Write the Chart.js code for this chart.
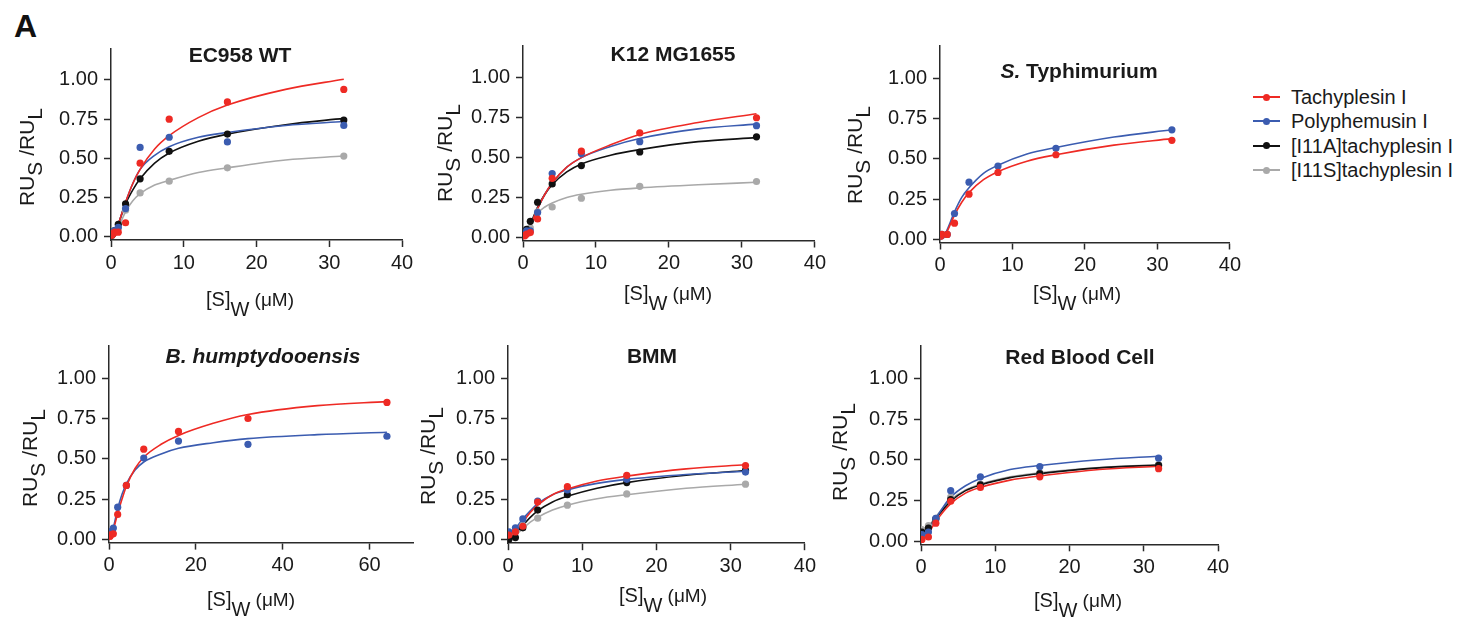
<!DOCTYPE html>
<html><head><meta charset="utf-8">
<script src="https://cdn.jsdelivr.net/npm/chart.js@4.4.1/dist/chart.umd.min.js"></script>
<style>
html,body{margin:0;padding:0;background:#fff;}
body{width:1461px;height:619px;overflow:hidden;position:relative;font-family:'Liberation Sans',Arial,sans-serif;color:#1a1a1a;}
canvas{position:absolute;}
#panelLabel{position:absolute;left:14px;top:10px;font:bold 32px/32px 'Liberation Sans',Arial,sans-serif;color:#111;}
.legline{position:absolute;width:27px;height:2px;}
.legdot{position:absolute;width:7px;height:7px;border-radius:50%;}
.legtxt{position:absolute;font:20px/20px 'Liberation Sans',Arial,sans-serif;color:#1a1a1a;white-space:nowrap;}
</style>
</head><body>
<div id="panelLabel">A</div>
<canvas id="c1"></canvas><canvas id="c2"></canvas><canvas id="c3"></canvas>
<canvas id="c4"></canvas><canvas id="c5"></canvas><canvas id="c6"></canvas>
<div id="legend"></div>
<script>
// ---------------- data ----------------
const SERIES = ['Tachyplesin I', 'Polyphemusin I', '[I11A]tachyplesin I', '[I11S]tachyplesin I'];
const PANEL_TITLES = ['EC958 WT', 'K12 MG1655', 'S. Typhimurium', 'B. humptydooensis', 'BMM', 'Red Blood Cell'];
const X_TICKS_32 = [0, 10, 20, 30, 40];
const X_TICKS_64 = [0, 20, 40, 60];
const Y_TICKS = [0, 0.25, 0.5, 0.75, 1.0];

// measured concentrations (µM)
const CONC = [0.125, 0.25, 0.5, 1, 2, 4, 8, 16, 32];
const CONC_BH = [0.125, 0.25, 0.5, 1, 2, 4, 8, 16, 32, 64];
const CONC_MEM = [0.125, 1, 2, 4, 8, 16, 32];
// x positions at which the fitted curves were read
const FIT_X = [0, 0.5, 1, 2, 3, 4, 6, 8, 12, 16, 24, 32];
const FIT_X_BH = [0, 0.5, 1, 2, 3, 4, 6, 8, 12, 16, 24, 32, 48, 64];

// EC958 WT
const ec_tach = [0.01, 0.02, 0.03, 0.03, 0.09, 0.47, 0.75, 0.86, 0.94];
const ec_poly = [0.02, 0.03, 0.04, 0.06, 0.18, 0.57, 0.635, 0.605, 0.71];
const ec_i11a = [0.01, 0.02, 0.04, 0.08, 0.21, 0.37, 0.545, 0.655, 0.745];
const ec_i11s = [0.01, 0.02, 0.03, 0.06, 0.17, 0.28, 0.355, 0.44, 0.515];
const ec_tach_fit = [0, 0.02, 0.08, 0.22, 0.34, 0.43, 0.56, 0.645, 0.76, 0.84, 0.94, 1.005];
const ec_poly_fit = [0, 0.02, 0.08, 0.22, 0.34, 0.43, 0.52, 0.575, 0.635, 0.665, 0.71, 0.735];
const ec_i11a_fit = [0, 0.02, 0.08, 0.21, 0.30, 0.37, 0.47, 0.535, 0.61, 0.655, 0.715, 0.755];
const ec_i11s_fit = [0, 0.02, 0.06, 0.16, 0.23, 0.275, 0.33, 0.36, 0.41, 0.44, 0.49, 0.515];

// K12 MG1655
const k12_tach = [0.01, 0.01, 0.02, 0.03, 0.115, 0.37, 0.54, 0.655, 0.75];
const k12_poly = [0.02, 0.02, 0.04, 0.04, 0.155, 0.40, 0.525, 0.60, 0.70];
const k12_i11a = [0.02, 0.03, 0.05, 0.10, 0.22, 0.335, 0.45, 0.535, 0.63];
const k12_i11s = [0.02, 0.03, 0.04, 0.06, 0.16, 0.19, 0.245, 0.32, 0.35];
const k12_tach_fit = [0, 0.02, 0.07, 0.18, 0.27, 0.34, 0.44, 0.50, 0.58, 0.645, 0.72, 0.775];
const k12_poly_fit = [0, 0.02, 0.07, 0.18, 0.27, 0.34, 0.44, 0.50, 0.57, 0.62, 0.68, 0.71];
const k12_i11a_fit = [0, 0.03, 0.08, 0.19, 0.27, 0.33, 0.41, 0.46, 0.515, 0.55, 0.60, 0.625];
const k12_i11s_fit = [0, 0.03, 0.07, 0.15, 0.19, 0.215, 0.25, 0.27, 0.295, 0.31, 0.33, 0.345];

// S. Typhimurium
const st_tach = [null, 0.03, null, 0.03, 0.10, 0.28, 0.415, 0.525, 0.615];
const st_poly = [null, 0.03, null, 0.03, 0.16, 0.355, 0.455, 0.565, 0.68];
const st_tach_fit = [0, 0.01, 0.05, 0.15, 0.23, 0.29, 0.37, 0.42, 0.485, 0.525, 0.585, 0.625];
const st_poly_fit = [0, 0.01, 0.06, 0.17, 0.26, 0.32, 0.41, 0.46, 0.53, 0.57, 0.635, 0.68];

// B. humptydooensis
const bh_tach = [0.02, 0.02, 0.03, 0.035, 0.155, 0.335, 0.56, 0.67, 0.75, 0.85];
const bh_poly = [0.04, 0.04, 0.05, 0.07, 0.20, 0.335, 0.505, 0.61, 0.59, 0.64];
const bh_tach_fit = [0, 0.02, 0.06, 0.16, 0.25, 0.33, 0.44, 0.51, 0.59, 0.645, 0.72, 0.775, 0.83, 0.855];
const bh_poly_fit = [0, 0.02, 0.07, 0.19, 0.28, 0.345, 0.43, 0.48, 0.53, 0.565, 0.60, 0.625, 0.65, 0.665];

// BMM
const bmm_tach = [0.03, 0.05, 0.085, 0.235, 0.33, 0.40, 0.46];
const bmm_poly = [0.05, 0.075, 0.13, 0.24, 0.31, 0.375, 0.42];
const bmm_i11a = [0.005, 0.015, 0.075, 0.185, 0.28, 0.355, 0.43];
const bmm_i11s = [0.03, 0.05, 0.09, 0.135, 0.215, 0.285, 0.345];
const bmm_tach_fit = [0.02, 0.03, 0.05, 0.11, 0.17, 0.215, 0.28, 0.315, 0.365, 0.395, 0.44, 0.465];
const bmm_poly_fit = [0.03, 0.05, 0.07, 0.13, 0.18, 0.225, 0.28, 0.31, 0.35, 0.375, 0.405, 0.425];
const bmm_i11a_fit = [0, 0.02, 0.04, 0.09, 0.14, 0.18, 0.235, 0.27, 0.32, 0.355, 0.40, 0.43];
const bmm_i11s_fit = [0, 0.015, 0.03, 0.07, 0.11, 0.14, 0.185, 0.215, 0.255, 0.28, 0.32, 0.345];

// Red Blood Cell
const rbc_tach = [0.01, 0.025, 0.11, 0.245, 0.33, 0.395, 0.445];
const rbc_poly = [0.04, 0.055, 0.14, 0.31, 0.395, 0.458, 0.51];
const rbc_i11a = [0.055, 0.08, 0.135, 0.255, 0.345, 0.415, 0.465];
const rbc_i11s = [0.07, 0.095, 0.14, 0.27, 0.35, 0.42, 0.47];
const rbc_tach_fit = [0, 0.02, 0.05, 0.12, 0.18, 0.23, 0.295, 0.33, 0.375, 0.40, 0.44, 0.46];
const rbc_poly_fit = [0.02, 0.04, 0.07, 0.14, 0.21, 0.27, 0.34, 0.385, 0.44, 0.465, 0.50, 0.522];
const rbc_i11a_fit = [0.03, 0.05, 0.08, 0.14, 0.195, 0.245, 0.31, 0.345, 0.39, 0.415, 0.45, 0.468];
const rbc_i11s_fit = [0.04, 0.06, 0.09, 0.15, 0.205, 0.255, 0.315, 0.35, 0.395, 0.42, 0.452, 0.47];

// ---------------- styles ----------------
const COLORS = ['#ee2a24', '#3b5cb0', '#111111', '#a9a9a9'];
const FONT = "'Liberation Sans', Arial, sans-serif";
const INK = '#1a1a1a';

function pts(xs, ys) { const o = []; xs.forEach((x, i) => { if (ys[i] !== null && ys[i] !== undefined) o.push({x, y: ys[i]}); }); return o; }

function buildDatasets(xPts, series, xFit, fits) {
  const ds = [];
  series.forEach(s => ds.push({
    label: SERIES[s.i], data: pts(xPts, s.v), showLine: false,
    pointRadius: 3.6, pointHoverRadius: 3.6, pointBackgroundColor: COLORS[s.i], pointBorderWidth: 0,
    borderColor: COLORS[s.i]
  }));
  fits.forEach(s => ds.push({
    label: SERIES[s.i] + ' fit', data: pts(xFit, s.v), showLine: true, pointRadius: 0,
    borderColor: COLORS[s.i], borderWidth: 1.6, cubicInterpolationMode: 'monotone', fill: false
  }));
  return ds;
}

function drawRuns(ctx, runs, cx, baseY) {
  let total = 0;
  runs.forEach(r => { ctx.font = r.f; r.w = ctx.measureText(r.t).width; total += r.w; });
  let x = cx - total / 2;
  runs.forEach(r => { ctx.font = r.f; ctx.fillText(r.t, x, baseY + (r.dy || 0)); x += r.w; });
}

const panelText = {
  id: 'panelText',
  afterDraw(chart, args, o) {
    if (!o || !o.origin) return;
    const ctx = chart.ctx; const ox = o.origin[0], oy = o.origin[1];
    ctx.save();
    ctx.fillStyle = INK; ctx.textBaseline = 'alphabetic'; ctx.textAlign = 'left';
    drawRuns(ctx, o.title, o.titlePos[0] - ox, o.titlePos[1] - oy);
    drawRuns(ctx, [
      {t: '[S]', f: `20px ${FONT}`},
      {t: 'W', f: `20px ${FONT}`, dy: 10},
      {t: ' (\u03bcM)', f: `19px ${FONT}`}
    ], o.xTitlePos[0] - ox, o.xTitlePos[1] - oy);
    ctx.translate(o.yTitlePos[0] - ox, o.yTitlePos[1] - oy);
    ctx.rotate(-Math.PI / 2);
    drawRuns(ctx, [
      {t: 'RU', f: `21px ${FONT}`},
      {t: 'S', f: `21px ${FONT}`, dy: 8},
      {t: ' /RU', f: `21px ${FONT}`},
      {t: 'L', f: `21px ${FONT}`, dy: 8}
    ], 0, 0);
    ctx.restore();
  }
};

function makePanel(p) {
  const cv = document.getElementById(p.id);
  const [cl, ct, cw, ch] = p.canvas;
  cv.width = cw; cv.height = ch;
  cv.style.left = cl + 'px'; cv.style.top = ct + 'px';
  cv.style.width = cw + 'px'; cv.style.height = ch + 'px';
  const XH = 34;
  const yW = p.area.l - cl;
  const padTop = p.area.t - ct;
  const padRight = cl + cw - p.area.r;
  const padBottom = ct + ch - p.area.b - XH;
  const tickFont = {family: FONT, size: 20};
  new Chart(cv, {
    type: 'scatter',
    data: {datasets: p.datasets},
    options: {
      responsive: false, animation: false, devicePixelRatio: 1,
      layout: {padding: {left: 0, top: padTop, right: padRight, bottom: padBottom}},
      plugins: {legend: {display: false}, tooltip: {enabled: false}, title: {display: false},
        panelText: {origin: [cl, ct], title: p.title, titlePos: p.titlePos, xTitlePos: p.xTitlePos, yTitlePos: p.yTitlePos}},
      scales: {
        x: {
          type: 'linear', min: 0, max: p.xMax,
          afterBuildTicks: s => { s.ticks = p.xTicks.map(v => ({value: v})); },
          afterFit: s => { s.height = XH; },
          grid: {drawOnChartArea: false, drawTicks: true, tickLength: 7, tickWidth: 1.5, color: '#2a2a2a'},
          border: {display: true, color: '#2a2a2a', width: 1.5},
          ticks: {font: tickFont, color: INK, padding: 4, maxRotation: 0, autoSkip: false, callback: v => String(v)}
        },
        y: {
          type: 'linear', min: -0.02, max: 1.2,
          afterBuildTicks: s => { s.ticks = Y_TICKS.map(v => ({value: v})); },
          afterFit: s => { s.width = yW; },
          grid: {drawOnChartArea: false, drawTicks: true, tickLength: 7, tickWidth: 1.5, color: '#2a2a2a'},
          border: {display: true, color: '#2a2a2a', width: 1.5},
          ticks: {font: tickFont, color: INK, padding: 6, autoSkip: false, callback: v => Number(v).toFixed(2)}
        }
      }
    },
    plugins: [panelText]
  });
}

const B = w => `bold ${w}px ${FONT}`;
const BI = w => `italic bold ${w}px ${FONT}`;

makePanel({
  id: 'c1', canvas: [0, 28, 420, 297], area: {l: 111, r: 402, t: 48.6, b: 240},
  xMax: 40, xTicks: X_TICKS_32,
  title: [{t: PANEL_TITLES[0], f: B(21)}], titlePos: [240, 62], xTitlePos: [250, 306], yTitlePos: [34, 157],
  datasets: buildDatasets(CONC,
    [{i: 0, v: ec_tach}, {i: 1, v: ec_poly}, {i: 2, v: ec_i11a}, {i: 3, v: ec_i11s}], FIT_X,
    [{i: 0, v: ec_tach_fit}, {i: 1, v: ec_poly_fit}, {i: 2, v: ec_i11a_fit}, {i: 3, v: ec_i11s_fit}])
});
makePanel({
  id: 'c2', canvas: [420, 28, 410, 297], area: {l: 523, r: 822, t: 45.3, b: 240.5},
  xMax: 40, xTicks: X_TICKS_32,
  title: [{t: PANEL_TITLES[1], f: B(21)}], titlePos: [673, 61], xTitlePos: [668, 300], yTitlePos: [452, 153],
  datasets: buildDatasets(CONC,
    [{i: 0, v: k12_tach}, {i: 1, v: k12_poly}, {i: 2, v: k12_i11a}, {i: 3, v: k12_i11s}], FIT_X,
    [{i: 0, v: k12_tach_fit}, {i: 1, v: k12_poly_fit}, {i: 2, v: k12_i11a_fit}, {i: 3, v: k12_i11s_fit}])
});
makePanel({
  id: 'c3', canvas: [830, 28, 415, 297], area: {l: 940, r: 1233, t: 46.1, b: 242.5},
  xMax: 40, xTicks: X_TICKS_32,
  title: [{t: 'S.', f: BI(21)}, {t: ' Typhimurium', f: B(21)}], titlePos: [1079, 78], xTitlePos: [1077, 300], yTitlePos: [862, 155],
  datasets: buildDatasets(CONC,
    [{i: 0, v: st_tach}, {i: 1, v: st_poly}], FIT_X,
    [{i: 0, v: st_tach_fit}, {i: 1, v: st_poly_fit}])
});
makePanel({
  id: 'c4', canvas: [0, 328, 420, 291], area: {l: 109, r: 413, t: 340.1, b: 542.6},
  xMax: 70, xTicks: X_TICKS_64,
  title: [{t: PANEL_TITLES[3], f: BI(21)}], titlePos: [263, 363], xTitlePos: [251, 606], yTitlePos: [37, 458],
  datasets: buildDatasets(CONC_BH,
    [{i: 0, v: bh_tach}, {i: 1, v: bh_poly}], FIT_X_BH,
    [{i: 0, v: bh_tach_fit}, {i: 1, v: bh_poly_fit}])
});
makePanel({
  id: 'c5', canvas: [420, 328, 400, 291], area: {l: 508, r: 805, t: 345.3, b: 543.2},
  xMax: 40, xTicks: X_TICKS_32,
  title: [{t: PANEL_TITLES[4], f: B(21)}], titlePos: [652, 363], xTitlePos: [663, 602], yTitlePos: [435, 456],
  datasets: buildDatasets(CONC_MEM,
    [{i: 0, v: bmm_tach}, {i: 1, v: bmm_poly}, {i: 2, v: bmm_i11a}, {i: 3, v: bmm_i11s}], FIT_X,
    [{i: 0, v: bmm_tach_fit}, {i: 1, v: bmm_poly_fit}, {i: 2, v: bmm_i11a_fit}, {i: 3, v: bmm_i11s_fit}])
});
makePanel({
  id: 'c6', canvas: [822, 328, 423, 291], area: {l: 921, r: 1218, t: 345.8, b: 544.3},
  xMax: 40, xTicks: X_TICKS_32,
  title: [{t: PANEL_TITLES[5], f: B(21)}], titlePos: [1080, 364], xTitlePos: [1078, 607], yTitlePos: [847, 452],
  datasets: buildDatasets(CONC_MEM,
    [{i: 0, v: rbc_tach}, {i: 1, v: rbc_poly}, {i: 2, v: rbc_i11a}, {i: 3, v: rbc_i11s}], FIT_X,
    [{i: 0, v: rbc_tach_fit}, {i: 1, v: rbc_poly_fit}, {i: 2, v: rbc_i11a_fit}, {i: 3, v: rbc_i11s_fit}])
});

// legend
const leg = document.getElementById('legend');
SERIES.forEach((name, i) => {
  const cy = 97 + i * 24.4;
  const ln = document.createElement('div'); ln.className = 'legline';
  ln.style.left = '1253px'; ln.style.top = (cy - 1) + 'px'; ln.style.background = COLORS[i];
  const dt = document.createElement('div'); dt.className = 'legdot';
  dt.style.left = '1263px'; dt.style.top = (cy - 3.5) + 'px'; dt.style.background = COLORS[i];
  const tx = document.createElement('div'); tx.className = 'legtxt';
  tx.style.left = '1291px'; tx.style.top = (cy - 10) + 'px'; tx.textContent = name;
  leg.appendChild(ln); leg.appendChild(dt); leg.appendChild(tx);
});
</script>
</body></html>
